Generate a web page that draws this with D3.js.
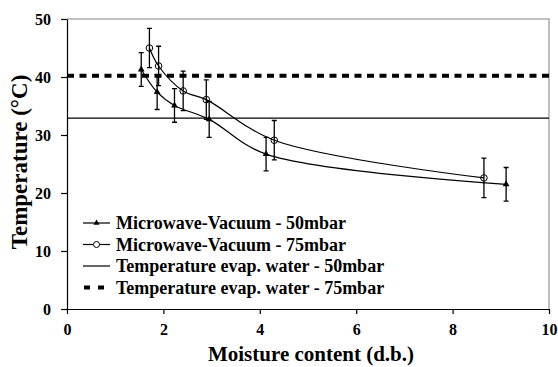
<!DOCTYPE html>
<html><head><meta charset="utf-8">
<script src="https://cdn.jsdelivr.net/npm/d3@7"></script>
<style>body{margin:0;background:#fff}svg{display:block}text{font-family:"Liberation Serif","Times New Roman",serif !important;font-weight:bold}</style>
</head><body><svg id="c" width="558" height="367"></svg>
<script>
const xTicks = [0, 2, 4, 6, 8, 10];
const yTicks = [0, 10, 20, 30, 40, 50];
const mv50X = [1.54, 1.87, 2.23, 2.95, 4.13, 9.11];
const mv50Y = [41.3, 37.4, 35.1, 32.7, 26.7, 21.5];
const mv50Err = [2.9, 3.0, 2.9, 3.1, 2.9, 2.9];
const mv75X = [1.71, 1.90, 2.41, 2.89, 4.30, 8.65];
const mv75Y = [45.0, 41.9, 37.6, 36.1, 29.1, 22.6];
const mv75Err = [3.4, 3.4, 3.4, 3.4, 3.4, 3.4];
const evap50 = 32.9;
const evap75 = 40.2;
const legendLabels = ["Microwave-Vacuum - 50mbar", "Microwave-Vacuum - 75mbar", "Temperature evap. water - 50mbar", "Temperature evap. water - 75mbar"];
const xTitle = "Moisture content (d.b.)";
const yTitle = "Temperature (\u00B0C)";

const svg = d3.select("#c");
const L = 67, R = 549, T = 19, B = 309;
const x = d3.scaleLinear().domain([0, 10]).range([L, R]);
const y = d3.scaleLinear().domain([0, 50]).range([B, T]);

svg.append("path").attr("d", `M${L},${T}H${R}V${B}`).attr("fill","none").attr("stroke","#aaa").attr("stroke-width",1.5);

const xa = svg.append("g").attr("transform",`translate(0,${B})`)
  .call(d3.axisBottom(x).tickValues(xTicks).tickSize(5).tickSizeOuter(0).tickPadding(10).tickFormat(d3.format("d")));
const ya = svg.append("g").attr("transform",`translate(${L},0)`)
  .call(d3.axisLeft(y).tickValues(yTicks).tickSize(6).tickSizeOuter(0).tickPadding(10).tickFormat(d3.format("d")));
[xa, ya].forEach(a => {
  a.attr("font-family", null).attr("font-size", null);
  a.select(".domain").attr("stroke","#000").attr("stroke-width",1.2);
  a.selectAll(".tick line").attr("stroke","#000").attr("stroke-width",1.2);
  a.selectAll(".tick text").style("font-size","16px").style("font-weight","bold")
    .style("font-family","'Liberation Serif', serif").attr("fill","#000");
});

svg.append("line").attr("x1",L).attr("x2",R).attr("y1",y(evap50)).attr("y2",y(evap50)).attr("stroke","#000").attr("stroke-width",1.2);
svg.append("line").attr("x1",L).attr("x2",R).attr("y1",y(evap75)).attr("y2",y(evap75)).attr("stroke","#000").attr("stroke-width",4).attr("stroke-dasharray","7,5.5");

const line = d3.line().x(d=>x(d[0])).y(d=>y(d[1])).curve(d3.curveCatmullRom.alpha(0.5));

function series(xs, ys, errs, marker){
  const pts = xs.map((v,i)=>[v, ys[i], errs[i]]);
  const g = svg.append("g");
  g.append("path").datum(pts).attr("d", line).attr("fill","none").attr("stroke","#000").attr("stroke-width",1.2);
  pts.forEach(p=>{
    const cx = x(p[0]), y1 = y(p[1]+p[2]), y2 = y(p[1]-p[2]);
    g.append("path").attr("d",`M${cx},${y1}V${y2}M${cx-2.5},${y1}H${cx+2.5}M${cx-2.5},${y2}H${cx+2.5}`).attr("stroke","#000").attr("stroke-width",1.3).attr("fill","none");
  });
  pts.forEach(p=>{
    const cx = x(p[0]), cy = y(p[1]);
    if (marker==="tri") g.append("path").attr("d", d3.symbol(d3.symbolTriangle, 20)()).attr("transform",`translate(${cx},${cy})`).attr("fill","#000");
    else g.append("circle").attr("cx",cx).attr("cy",cy).attr("r",3.3).attr("fill","none").attr("stroke","#000").attr("stroke-width",1);
  });
}
series(mv50X, mv50Y, mv50Err, "tri");
series(mv75X, mv75Y, mv75Err, "circ");

const lg = svg.append("g");
const ly0 = 223, ldy = 21.5, lx1 = 83, lx2 = 110, ltx = 116;
legendLabels.forEach((t,i)=>{
  const yy = ly0 + i*ldy;
  if (i<3) lg.append("line").attr("x1",lx1).attr("x2",lx2).attr("y1",yy).attr("y2",yy).attr("stroke","#000").attr("stroke-width",1.2);
  else lg.append("line").attr("x1",lx1+1).attr("x2",lx2).attr("y1",yy).attr("y2",yy).attr("stroke","#000").attr("stroke-width",4).attr("stroke-dasharray","6,8");
  if (i===0) lg.append("path").attr("d", d3.symbol(d3.symbolTriangle, 16)()).attr("transform",`translate(${(lx1+lx2)/2},${yy})`).attr("fill","#000");
  if (i===1) lg.append("circle").attr("cx",(lx1+lx2)/2).attr("cy",yy).attr("r",3).attr("fill","#fff").attr("stroke","#000");
  lg.append("text").attr("x",ltx).attr("y",yy+6).style("font-size","18px").text(t);
});

svg.append("text").attr("x",311).attr("y",361).attr("text-anchor","middle").style("font-size","21px").text(xTitle);
svg.append("text").attr("transform",`translate(27,162) rotate(-90)`).attr("text-anchor","middle").style("font-size","23px").text(yTitle);
</script></body></html>
